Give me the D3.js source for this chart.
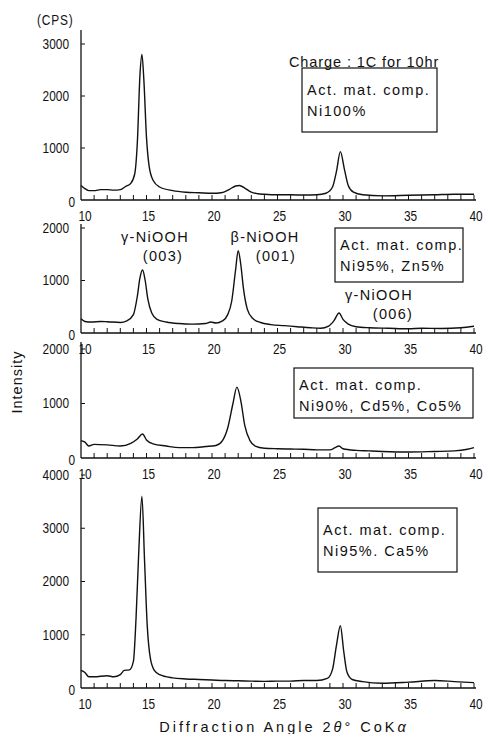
<!DOCTYPE html>
<html><head><meta charset="utf-8">
<script src="https://cdn.jsdelivr.net/npm/d3@7/dist/d3.min.js"></script>
<style>
body{margin:0;background:#fff;}
svg{display:block;}
.num{font-family:"Liberation Sans",Arial,sans-serif;font-size:14.5px;fill:#111;}
.lab{font-family:"Liberation Sans",Arial,sans-serif;font-size:14.5px;fill:#111;letter-spacing:1.5px;}
</style></head><body>
<svg id="c" width="485" height="734"></svg>
<script>
// ---- data ----
const xTicks = [10, 15, 20, 25, 30, 35, 40];
const angles1 = [10,10.3,10.6,11,11.5,12,12.5,13,13.4,13.8,14.1,14.3,14.5,14.65,14.8,15,15.2,15.5,16,17,18,19,20,20.7,21.3,21.8,22.1,22.5,23,23.5,24,25,26,27,28,28.7,29.2,29.5,29.8,30.1,30.4,30.8,31.5,33,35,37,38.5,40];
const ni100 = [280,220,180,180,200,200,190,200,260,320,500,1100,2400,2800,2300,1200,650,380,250,180,150,140,130,140,200,270,280,230,150,120,110,100,100,95,100,130,250,550,930,600,280,150,100,80,90,100,110,110];
const angles2 = [10,10.3,10.8,11.5,12,13,13.5,14,14.3,14.5,14.7,14.9,15.1,15.4,15.8,16.5,17.5,18.5,19.5,19.9,20.3,20.8,21.2,21.5,21.8,22.0,22.2,22.4,22.7,23.1,23.7,24.5,25.5,26.5,27.5,28.3,28.9,29.3,29.7,30,30.4,31,32,33.5,35,36,37.5,39,40];
const ni95zn5 = [270,220,210,220,215,200,230,350,700,1050,1200,1000,650,380,260,210,180,170,180,210,190,230,350,600,1200,1570,1300,850,450,280,200,160,140,120,100,90,130,230,380,260,170,120,100,90,80,90,85,100,130];
const angles3 = [10,10.3,10.6,11,12,13,13.8,14.3,14.7,15.0,15.5,16.5,17.5,18.5,19.5,20.3,20.8,21.2,21.6,21.9,22.2,22.5,22.9,23.3,24,25,26,27,28,29,29.4,29.7,30,31,32,33,35,37,38.5,39.5,40];
const ni90cd5co5 = [320,290,220,250,240,220,270,350,440,330,260,220,190,190,210,230,320,550,1000,1300,1050,600,320,220,180,170,165,160,150,150,190,220,170,140,130,120,110,120,130,160,190];
const angles4 = [10,10.3,10.6,11,12,12.5,13,13.3,13.7,14,14.2,14.4,14.65,14.85,15.05,15.3,15.6,16,17,18,19,20,21,22,23,24,25,26,27,28,28.8,29.2,29.5,29.8,30.05,30.3,30.7,31.5,33,35,37,38.5,40];
const ni95ca5 = [330,290,210,210,230,210,250,330,340,500,1300,2500,3600,2400,1200,550,330,250,190,170,160,150,140,135,130,125,130,130,140,140,180,350,800,1170,700,300,160,120,90,110,140,120,100];
const yTicks1 = [0,1000,2000,3000];
const yTicks2 = [0,1000,2000];
const yTicks3 = [0,1000,2000];
const yTicks4 = [0,1000,2000,3000,4000];

const panels = [
  {angles:angles1, vals:ni100, yTicks:yTicks1, y0:200, yRef:3000, yRefPx:44, top:30,
   box:{x:302,y:68,w:135,h:64,lines:["Act. mat. comp.","Ni100%"]}},
  {angles:angles2, vals:ni95zn5, yTicks:yTicks2, y0:333, yRef:2000, yRefPx:228, top:224,
   box:{x:335,y:228,w:128,h:54,lines:["Act. mat. comp.","Ni95%, Zn5%"]}},
  {angles:angles3, vals:ni90cd5co5, yTicks:yTicks3, y0:458, yRef:2000, yRefPx:349, top:342,
   box:{x:294,y:368,w:179,h:50,lines:["Act. mat. comp.","Ni90%, Cd5%, Co5%"]}},
  {angles:angles4, vals:ni95ca5, yTicks:yTicks4, y0:688, yRef:4000, yRefPx:475, top:478,
   box:{x:318,y:508,w:139,h:64,lines:["Act. mat. comp.","Ni95%. Ca5%"]}}
];

const svg = d3.select("#c");
const x = d3.scaleLinear().domain([10,40]).range([81,474]);
const minor = d3.range(10,41,1);
const narrow = (tx,ty)=>`translate(${tx},${ty}) scale(0.82,1)`;

panels.forEach((p,i)=>{
  const y = d3.scaleLinear().domain([0,p.yRef]).range([p.y0,p.yRefPx]);
  const g = svg.append("g");
  g.append("line").attr("x1",81).attr("x2",81).attr("y1",p.top).attr("y2",p.y0)
    .attr("stroke","#111").attr("stroke-width",1.3);
  g.append("line").attr("x1",81).attr("x2",476).attr("y1",p.y0).attr("y2",p.y0)
    .attr("stroke","#111").attr("stroke-width",1.3);
  g.selectAll(".xt").data(minor.slice(1)).enter().append("line")
    .attr("x1",d=>x(d)).attr("x2",d=>x(d)).attr("y1",p.y0).attr("y2",p.y0-5)
    .attr("stroke","#111").attr("stroke-width",1);
  g.selectAll(".xl").data(xTicks).enter().append("text").attr("class","num")
    .attr("transform",d=>narrow(x(d)+(d===10?4:2),p.y0+16)).attr("text-anchor","middle")
    .attr("dominant-baseline","central").text(d=>d);
  g.selectAll(".yt").data(p.yTicks.filter(d=>d>0)).enter().append("line")
    .attr("x1",81).attr("x2",85).attr("y1",d=>y(d)).attr("y2",d=>y(d))
    .attr("stroke","#111").attr("stroke-width",1);
  g.selectAll(".yl").data(p.yTicks).enter().append("text").attr("class","num")
    .attr("transform",d=>narrow(d===0?75:69, y(d)+(d===0?2:0))).attr("text-anchor","end")
    .attr("dominant-baseline","central").text(d=>d);
  const pts = p.angles.map((a,k)=>[a,p.vals[k]]);
  g.append("path").datum(pts)
    .attr("d",d3.line().x(d=>x(d[0])).y(d=>y(d[1])).curve(d3.curveMonotoneX))
    .attr("fill","none").attr("stroke","#111").attr("stroke-width",1.4);
  const b = p.box;
  g.append("rect").attr("x",b.x).attr("y",b.y).attr("width",b.w).attr("height",b.h)
    .attr("fill","#fff").attr("stroke","#111").attr("stroke-width",1.2);
  const firstY = b.y + (b.h>55 ? 22 : 17);
  b.lines.forEach((t,k)=>{
    g.append("text").attr("class","lab").attr("x",b.x+5).attr("y",firstY+k*21)
      .attr("dominant-baseline","central").text(t);
  });
});

svg.append("text").attr("class","num").attr("transform",narrow(37,20))
  .attr("dominant-baseline","central").style("letter-spacing","1px").text("(CPS)");
svg.append("text").attr("class","lab").attr("x",289).attr("y",62)
  .attr("dominant-baseline","central").style("letter-spacing","0.9px").text("Charge : 1C for 10hr");

const ann = [
  {t:"γ-NiOOH", x:155, y:237}, {t:"(003)", x:163, y:256},
  {t:"β-NiOOH", x:265, y:237}, {t:"(001)", x:276, y:256},
  {t:"γ-NiOOH", x:379, y:295}, {t:"(006)", x:393, y:314}
];
svg.selectAll(".ann").data(ann).enter().append("text").attr("class","lab")
  .attr("x",d=>d.x).attr("y",d=>d.y).attr("text-anchor","middle")
  .attr("dominant-baseline","central").style("letter-spacing","1.3px").text(d=>d.t);

svg.append("text").attr("class","lab").attr("transform","translate(17,382) rotate(-90)")
  .attr("text-anchor","middle").attr("dominant-baseline","central").style("letter-spacing","1px").text("Intensity");

const xt = svg.append("text").attr("class","lab").attr("x",284).attr("y",727)
  .attr("text-anchor","middle").attr("dominant-baseline","central").style("letter-spacing","3px");
xt.append("tspan").text("Diffraction Angle 2");
xt.append("tspan").style("font-style","italic").text("θ");
xt.append("tspan").text("° CoK");
xt.append("tspan").style("font-style","italic").text("α");
</script>
</body></html>
